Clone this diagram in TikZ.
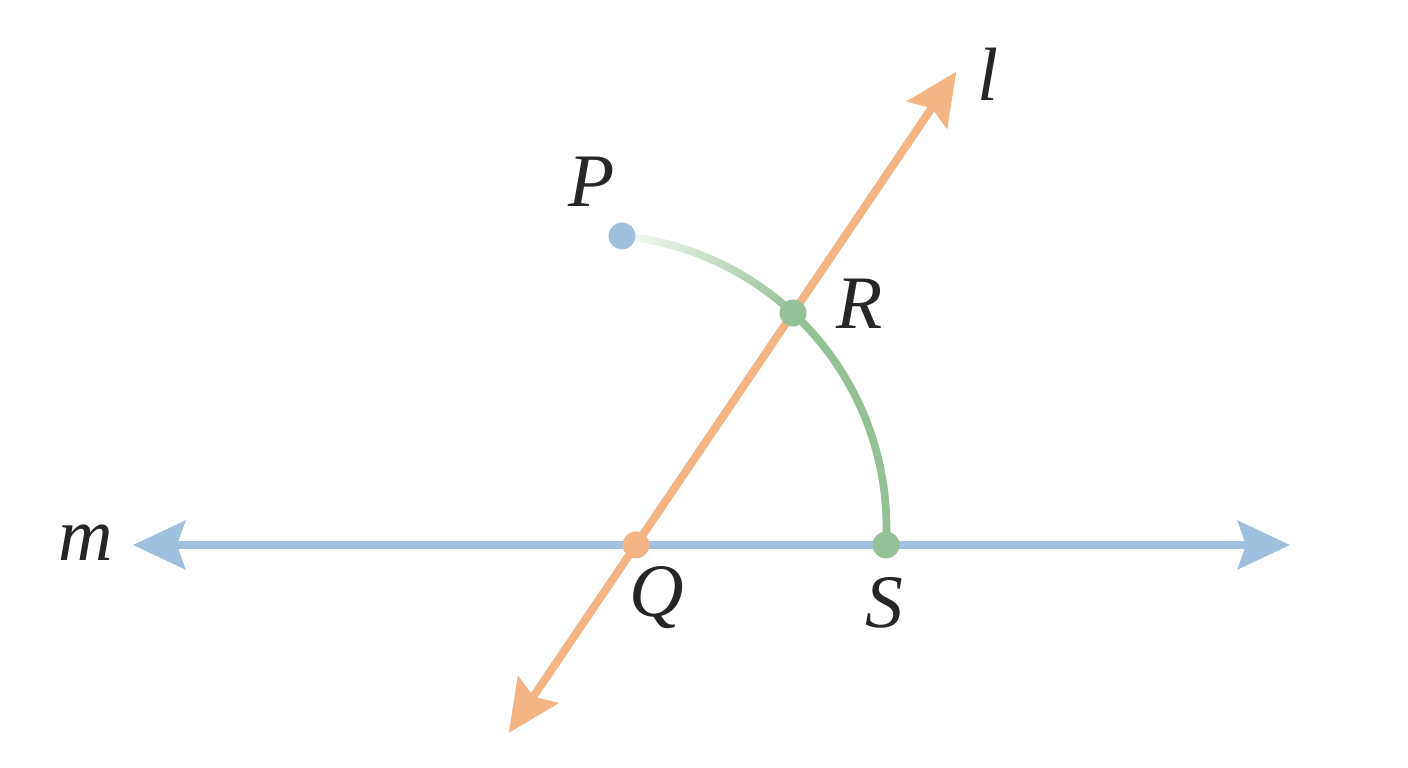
\documentclass[tikz,border=0pt]{standalone}
\usepackage{fontspec}
\setmainfont{Liberation Serif}
\usetikzlibrary{arrows.meta}
\definecolor{lineblue}{RGB}{160,192,222}
\definecolor{lineorange}{RGB}{244,180,132}
\definecolor{arcgreen}{RGB}{150,192,150}
\definecolor{labelgray}{RGB}{38,38,38}

\begin{document}
\begin{tikzpicture}[
    dot/.style={circle, inner sep=0pt, minimum size=0.27cm},
    lab/.style={font=\fontsize{21.5}{25}\selectfont\itshape, text=labelgray},
    tip/.style={{Stealth[length=5.2mm, width=4.8mm, inset=0.8mm]}-{Stealth[length=5.2mm, width=4.8mm, inset=0.8mm]}},
    arcline/.style={line width=2.2pt, line cap=butt},
  ]
  \useasboundingbox (0,0) rectangle (14.08,7.68);

  % 点的坐标
  \coordinate (Q) at (6.36,2.23);
  \coordinate (S) at (8.86,2.23);
  \coordinate (R) at (7.93,4.55);
  \coordinate (P) at (6.22,5.32);
  \coordinate (C) at (5.935,2.404); % 圆弧圆心

  % 直线两端 (箭头尖)
  \coordinate (mL) at (1.33,2.23);
  \coordinate (mR) at (12.90,2.23);
  \coordinate (lB) at (5.088,0.351);
  \coordinate (lT) at (9.563,6.963);

  % 直线 m
  \draw[tip, draw=lineblue, fill=lineblue, line width=2.3pt] (mL) -- (mR);

  % 圆弧 P -> R (渐变)
  \foreach \a [evaluate=\a as \pc using {8+92*(84.4-\a)/37}] in {84.4,83.4,...,47.4} {
    \draw[arcline, draw=arcgreen!\pc!white] ([shift={(\a:2.93)}]C) arc[start angle=\a, end angle=\a-1.1, radius=2.93];
  }
  % 圆弧 R -> S
  \draw[arcline, draw=arcgreen] ([shift={(47.6:2.93)}]C) arc[start angle=47.6, end angle=-3.4, radius=2.93];

  % 直线 l
  \draw[tip, draw=lineorange, fill=lineorange, line width=2.3pt] (lB) -- (lT);

  % 标记点
  \node[dot, fill=lineblue] (p) at (P) {};
  \node[dot, fill=arcgreen] (r) at (R) {};
  \node[dot, fill=lineorange] (q) at (Q) {};
  \node[dot, fill=arcgreen] (s) at (S) {};

  % 标签
  \node[lab] (labP) at (5.92,5.86) {P};
  \node[lab] (labR) at (8.60,4.64) {R};
  \node[lab] (labQ) at (6.57,1.70) {Q};
  \node[lab] (labS) at (8.84,1.65) {S};
  \node[lab] (labl) at (9.88,6.94) {l};
  \node[lab] (labm) at (0.86,2.25) {m};
\end{tikzpicture}
\end{document}
